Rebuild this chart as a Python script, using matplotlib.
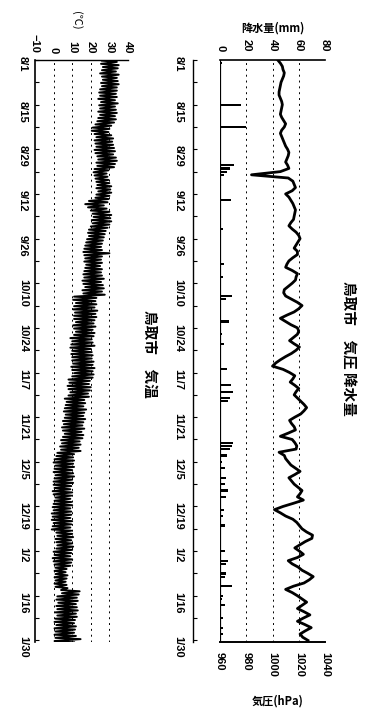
import numpy as np
import matplotlib.pyplot as plt
from datetime import date

plt.rcParams['font.family'] = ['Liberation Sans', 'Noto Sans CJK JP']
plt.rcParams['font.weight'] = 'bold'
CJK = ['Noto Sans CJK JP', 'DejaVu Sans']

# date axis labels (every 14 days)
date_labels = ["8/1", "8/15", "8/29", "9/12", "9/26", "10/10", "10/24",
               "11/7", "11/21", "12/5", "12/19", "1/2", "1/16", "1/30"]

# daily pressure (hPa), from 8/1
pressure_hpa = [
    1004, 1006, 1007.5, 1008, 1009, 1008.5, 1007.5, 1006.5, 1006, 1005.5,
    1005, 1005, 1006, 1007, 1007.5, 1007, 1006.5, 1006, 1007, 1008.5,
    1010, 1009, 1007, 1006, 1007, 1008, 1009, 1010, 1011.5, 1012.5,
    1012, 1011, 1010, 1011.5, 1012.5, 1006, 984, 1012, 1015.5, 1016.5,
    1017.5, 1015, 1010, 1012.5, 1014, 1015.5, 1016.5, 1017.5, 1017, 1016.5,
    1016, 1014, 1012.5, 1015, 1018, 1020, 1021, 1019.5, 1018, 1016.5,
    1019, 1019, 1015.5, 1012.5, 1011, 1010, 1015, 1019, 1018, 1017.5,
    1015, 1012, 1009, 1008.5, 1010, 1014.5, 1019, 1022.5, 1020, 1016.5,
    1011, 1006, 1010, 1014, 1019, 1020, 1019, 1016, 1013, 1016.5,
    1020.5, 1018, 1014.5, 1010, 1006, 1002.5, 1000, 1008, 1013, 1017,
    1015.5, 1013.5, 1017, 1020, 1018, 1016.5, 1019, 1021.5, 1024, 1026,
    1024, 1021.5, 1017, 1013, 1014.5, 1016.5, 1017.5, 1012, 1006, 1015,
    1017, 1018.5, 1018, 1005, 1009, 1010, 1012, 1014, 1017.5, 1021,
    1017, 1012.5, 1014.5, 1016.5, 1019.5, 1022.5, 1021, 1019, 1023.5, 1016,
    1008, 1001.5, 1006, 1010, 1015.5, 1018.5, 1020.5, 1022.5, 1026, 1030.5,
    1030, 1025, 1021, 1017, 1020.5, 1023.5, 1019, 1012, 1015, 1019.5,
    1022.5, 1027, 1031, 1028, 1024, 1016, 1010, 1015, 1019, 1022.5,
    1026, 1022.5, 1019, 1024, 1028.5, 1023.5, 1019, 1024.5, 1029.5, 1025,
    1021, 1023, 1027,
]

# rainy days and amounts (mm)
rain_dates = ["8/2", "8/15", "8/22", "8/31", "9/3", "9/4", "9/5", "9/6",
              "9/10", "9/14", "9/23", "10/4", "10/8", "10/11", "10/14",
              "10/15", "10/22", "10/26", "10/29", "11/6", "11/11", "11/13",
              "11/15", "11/16", "11/20", "11/29", "11/30", "12/1", "12/3",
              "12/5", "12/7", "12/10", "12/12", "12/14", "12/16", "12/20",
              "12/22", "12/25", "12/28", "1/2", "1/5", "1/6", "1/9", "1/10",
              "1/13", "1/16", "1/17", "1/19", "1/23", "1/26", "1/28"]
rain_mm = [1.5, 16, 20, 1, 11, 7.5, 5, 3,
           1, 8.5, 2.5, 3, 2, 1, 9,
           4.5, 7, 1.5, 3, 5, 8.5, 10,
           7.5, 6, 1, 10, 9, 7.5, 5.5,
           1.5, 3.5, 4.5, 3.5, 6, 4.5, 3,
           2, 3.5, 1, 4, 6, 4.5, 4.5, 3.5,
           9.5, 2.5, 1.5, 3.5, 2, 2.5, 2]

# daily min / max temperature (C), from 8/1
temp_min = [
    26, 25.5, 26.5, 26, 25, 26, 26.5, 25.5, 26,
    25, 24.5, 25, 24, 25.5, 24.5, 25, 24, 25,
    24, 23.5,
    22.5, 21, 20.5, 22, 23,
    22, 22.5, 23, 22, 22.5,
    23.5, 24, 23, 23.5,
    22, 21.5, 22, 22.5, 23,
    23.5, 23, 24, 23, 22.5,
    19, 17, 18.5, 20,
    21, 21.5, 20.5, 21, 20,
    19, 18.5, 19, 18, 17.5,
    17, 16.5, 16, 16.5,
    17, 16.5, 17.5, 17, 16.5,
    16, 16.5, 15.5, 16, 17, 15.5, 16,
    11, 10.5, 12, 11, 10.5, 11.5, 11,
    11, 12, 10.5, 11, 12, 11,
    9, 10, 9.5, 9, 10, 9.5, 10,
    10, 10.5, 9.5, 10, 11, 10,
    8, 8.5, 7.5, 8, 9, 8,
    6, 7, 6.5, 6, 5.5, 6.5, 6,
    5, 5.5, 4.5, 5, 6, 5,
    4, 4.5, 3.5, 4, 2, 1.5,
    0.5, 0, 1, 0.5, 0, 1, 0.5, 0,
    0, 0.5, -0.5, 0, 1, 0.5, 0, -0.5, 0,
    -1, -0.5, -1, 0, -0.5, -1,
    1.5, 2, 1, 1.5, 2, 1.5,
    0, 0.5, -0.5, 0, 0.5,
    1, 0.5, 1, 0.5, 1, 0.5, 1,
    4, 4.5,
    2, 1.5, 2.5, 1.5, 2, 1, 2,
    1, 0.5, 1.5, 0.5, 1, 0.5, 1, 0.5,
]
temp_max = [
    34, 35, 34.5, 33.5, 35, 34, 34.5, 35, 34,
    34, 33.5, 34, 33, 34.5, 33, 33.5, 34, 33,
    33.5, 32.5,
    31, 30, 29.5, 31, 32,
    31.5, 32, 32.5, 33, 32,
    33.5, 34, 33, 32.5,
    29.5, 28.5, 29, 29.5, 30,
    31, 30.5, 31, 30, 29.5,
    29, 27, 28.5, 30,
    31, 30.5, 31, 30, 29,
    28, 27.5, 27, 26.5, 26,
    25.5, 26, 30, 26,
    25.5, 26, 25, 26, 25.5,
    26, 27, 25.5, 26.5, 27, 26, 27.5,
    23, 22.5, 23, 22, 23.5, 22.5, 23,
    22, 21.5, 22.5, 21, 22, 21.5,
    20.5, 21, 22, 20, 20.5, 21, 20.5,
    21.5, 21, 22, 21, 21.5, 21,
    19.5, 19, 20, 19.5, 18.5, 19,
    16.5, 17, 16, 17.5, 16.5, 16, 17,
    16, 15.5, 16.5, 15, 16, 15.5,
    14, 14.5, 13.5, 14.5, 11, 10.5,
    11, 10.5, 11, 10, 10.5, 11, 10, 10.5,
    9.5, 9, 10, 9.5, 9, 9.5, 10, 9, 9.5,
    9.5, 9, 10, 9.5, 9, 9.5,
    10, 10.5, 9.5, 10, 10.5, 10,
    9.5, 9, 10, 9.5, 9,
    7, 6.5, 7.5, 7, 6.5, 7, 7.5,
    14, 13.5,
    12.5, 13, 12, 12.5, 13, 12, 12.5,
    11.5, 11, 12, 11.5, 11, 12, 14.5, 11,
]


def day_of(md):
    m, d = map(int, md.split("/"))
    y = 2001 if m >= 8 else 2002
    return (date(y, m, d) - date(2001, 8, 1)).days


def px_axes(fig, x0, y0, x1, y1):
    W, H = 380, 716
    return fig.add_axes([x0 / W, 1 - y1 / H, (x1 - x0) / W, (y1 - y0) / H])


def dashed_grid(ax, vals):
    for v in vals:
        ax.axvline(v, color='black', lw=0.7, ls=(0, (2, 4)), zorder=1)


def date_axis(ax, pad):
    ax.set_yticks([day_of(s) for s in date_labels], labels=date_labels)
    ax.set_yticks(np.arange(0, 183, 7), minor=True)
    ax.set_ylim(182.5, 0)
    ax.tick_params(axis='y', which='both', direction='in', length=3, width=0.8,
                   labelrotation=-90, pad=pad, labelsize=8)


fig = plt.figure(figsize=(3.8, 7.16), dpi=100)

days = np.arange(len(pressure_hpa))

# ---- pressure / precipitation panel
ax_r = px_axes(fig, 220, 60, 325, 642)
ax_p = ax_r.twiny()

ax_r.barh([day_of(s) for s in rain_dates], rain_mm, height=0.7,
          color='black', zorder=2)
ax_r.set_xlim(0, 80)
dashed_grid(ax_r, [20, 40, 60, 80])
ax_r.axvline(0, color='black', lw=1.6, zorder=3)
date_axis(ax_r, 7)
ax_r.xaxis.tick_top()
ax_r.set_xticks([0, 20, 40, 60, 80])
ax_r.tick_params(axis='x', length=0, labelrotation=-90, pad=6, labelsize=8)
for sp in ('right', 'bottom'):
    ax_r.spines[sp].set_visible(False)
ax_r.spines['top'].set_linewidth(1.2)
ax_r.spines['left'].set_position(('outward', 19.5))
ax_r.spines['left'].set_linewidth(1.0)

ax_p.plot(pressure_hpa, days, color='black', lw=2.0, zorder=4)
ax_p.set_xlim(960, 1040)
ax_p.xaxis.tick_bottom()
ax_p.set_xticks([960, 980, 1000, 1020, 1040])
ax_p.tick_params(axis='x', length=0, labelrotation=-90, pad=7, labelsize=8)
for sp in ('right', 'top', 'left'):
    ax_p.spines[sp].set_visible(False)
ax_p.spines['bottom'].set_linewidth(1.4)

# ---- temperature panel
ax_t = px_axes(fig, 35, 60, 128, 642)
t_time = np.column_stack((days + 0.2, days + 0.6)).ravel()
t_val = np.column_stack((temp_min, temp_max)).ravel()
ax_t.plot(t_val, t_time, color='black', lw=1.4, zorder=3)
ax_t.set_xlim(-10, 40)
dashed_grid(ax_t, [0, 10, 20, 30, 40])
date_axis(ax_t, 5)
ax_t.xaxis.tick_top()
ax_t.set_xticks([-10, 0, 10, 20, 30, 40])
ax_t.tick_params(axis='x', length=0, labelrotation=-90, pad=5, labelsize=8)
for sp in ('right', 'bottom'):
    ax_t.spines[sp].set_visible(False)
ax_t.spines['top'].set_linewidth(1.0)
ax_t.spines['left'].set_linewidth(1.2)

# ---- titles and axis names
W, H = 380, 716
fig.text(273 / W, 1 - 28 / H, "降水量(mm)", ha='center', va='center',
         fontsize=8, fontweight='bold', family=CJK)
fig.text(278 / W, 1 - 701 / H, "気圧(hPa)", ha='center', va='center',
         fontsize=8, fontweight='bold', family=CJK)
fig.text(76 / W, 1 - 20 / H, "(℃)", ha='center', va='center', rotation=-90,
         fontsize=8, fontweight='normal', family=CJK)
fig.text(348 / W, 1 - 348 / H, "鳥取市　気圧 降水量", ha='center', va='center',
         rotation=-90, fontsize=10.5, fontweight='bold', family=CJK)
fig.text(150 / W, 1 - 354 / H, "鳥取市　気温", ha='center', va='center',
         rotation=-90, fontsize=10.5, fontweight='bold', family=CJK)

fig.savefig("out.png", dpi=100)
